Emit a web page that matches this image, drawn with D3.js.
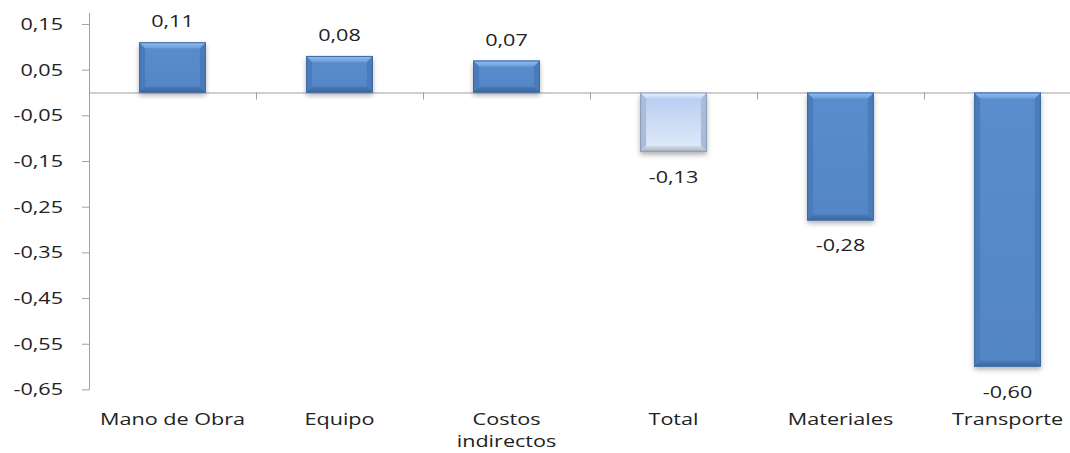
<!DOCTYPE html>
<html>
<head>
<meta charset="utf-8">
<script src="https://cdn.jsdelivr.net/npm/d3@7"></script>
<style>
  body { margin: 0; background: #fff; }
  text { font-family: "Open Sans", "Liberation Sans", sans-serif; fill: #222; }
</style>
</head>
<body>
<svg id="chart"></svg>
<script>
// data
var categories = ["Mano de Obra", "Equipo", "Costos indirectos", "Total", "Materiales", "Transporte"];
var values = [0.11, 0.08, 0.07, -0.13, -0.28, -0.60];
var valueLabels = ["0,11", "0,08", "0,07", "-0,13", "-0,28", "-0,60"];
var tickValues = [0.15, 0.05, -0.05, -0.15, -0.25, -0.35, -0.45, -0.55, -0.65];
var tickLabels = ["0,15", "0,05", "-0,05", "-0,15", "-0,25", "-0,35", "-0,45", "-0,55", "-0,65"];

var svgWidth = 1070;
var svgHeight = 453;
var left = 89;
var stretch = 1.27; // reference text is wide (stretched Calibri)

var svg = d3.select('#chart')
    .attr('width', svgWidth)
    .attr('height', svgHeight);

var x = d3.scaleBand()
    .domain(categories)
    .range([left, left + 6 * 167])
    .paddingInner(0.6)
    .paddingOuter(0.3);

var y = d3.scaleLinear()
    .domain([-0.65, 0.174])
    .range([389.4, 13]);

var defs = svg.append('defs');

function vgrad(id, c0, c1) {
    var g = defs.append('linearGradient').attr('id', id).attr('x1', 0).attr('y1', 0).attr('x2', 0).attr('y2', 1);
    g.append('stop').attr('offset', '0%').attr('stop-color', c0);
    g.append('stop').attr('offset', '100%').attr('stop-color', c1);
}
vgrad('blueMain', '#5a8dcd', '#5386c6');
vgrad('blueTop', '#93bdee', '#6d9fdb');
vgrad('blueBot', '#4b7cba', '#3a6499');
vgrad('lightMain', '#b4ccf0', '#e2ebfa');
vgrad('lightTop', '#eef4fd', '#c2d6f3');
vgrad('lightBot', '#d4dce8', '#a3afc1');

var shadow = defs.append('filter').attr('id', 'shadow').attr('x', '-20%').attr('y', '-20%').attr('width', '140%').attr('height', '140%');
shadow.append('feDropShadow').attr('dx', 0).attr('dy', 3).attr('stdDeviation', 2.5)
    .attr('flood-color', '#000').attr('flood-opacity', 0.3);

// y axis
var yAxis = d3.axisLeft(y)
    .tickValues(tickValues)
    .tickSize(7)
    .tickFormat(function(d, i) { return tickLabels[i]; });

var ya = svg.append('g')
    .attr('transform', 'translate(' + left + ',0)')
    .call(yAxis);
ya.select('.domain').attr('stroke', '#a0a0a0').attr('d', 'M-0.5,' + y(-0.65) + 'H0.5V' + y(0.174));
ya.selectAll('.tick line').attr('stroke', '#a0a0a0');
ya.selectAll('.tick text')
    .attr('x', -26 / stretch)
    .attr('transform', 'scale(' + stretch + ',1)')
    .style('font-size', '17px')
    .style('font-family', '"Open Sans", sans-serif')
    .attr('fill', '#222');

// zero line with category tick marks
var xAxis = d3.axisBottom(x).tickSize(0).tickFormat('');
var xa = svg.append('g')
    .attr('transform', 'translate(0,' + y(0) + ')')
    .call(xAxis);
xa.select('.domain').attr('stroke', '#a0a0a0');

var bounds = d3.range(1, 6).map(function(i) {
    return x(categories[i]) - x.step() * x.paddingInner() / 2;
});
svg.selectAll('.ctick').data(bounds).enter().append('line')
    .attr('class', 'ctick')
    .attr('x1', function(d) { return Math.round(d) + 0.5; })
    .attr('x2', function(d) { return Math.round(d) + 0.5; })
    .attr('y1', y(0))
    .attr('y2', y(0) + 7)
    .attr('stroke', '#a0a0a0');

// bars
var bars = svg.selectAll('.bar').data(values)
    .enter()
    .append('g')
    .attr('class', 'bar');

var bev = 6;
function box(d, i) {
    var x0 = x(categories[i]);
    return { x0: x0, x1: x0 + x.bandwidth(), t: y(Math.max(0, d)), b: y(Math.min(0, d)) };
}

bars.append('rect')
    .attr('x', function(d, i) { return x(categories[i]); })
    .attr('y', function(d) { return y(Math.max(0, d)); })
    .attr('width', x.bandwidth())
    .attr('height', function(d) { return Math.abs(y(d) - y(0)); })
    .attr('fill', function(d, i) { return i === 3 ? 'url(#lightMain)' : 'url(#blueMain)'; })
    .attr('filter', 'url(#shadow)');

// left / right bevel sides
bars.append('path')
    .attr('d', function(d, i) {
        var r = box(d, i);
        return 'M' + r.x0 + ',' + r.t + 'L' + (r.x0 + bev) + ',' + (r.t + bev) + 'V' + (r.b - bev) + 'L' + r.x0 + ',' + r.b + 'Z' +
               'M' + r.x1 + ',' + r.t + 'L' + (r.x1 - bev) + ',' + (r.t + bev) + 'V' + (r.b - bev) + 'L' + r.x1 + ',' + r.b + 'Z';
    })
    .attr('fill', function(d, i) { return i === 3 ? '#a9bddb' : '#4a7bba'; });

// top bevel
bars.append('path')
    .attr('d', function(d, i) {
        var r = box(d, i);
        return 'M' + r.x0 + ',' + r.t + 'H' + r.x1 + 'L' + (r.x1 - bev) + ',' + (r.t + bev) + 'H' + (r.x0 + bev) + 'Z';
    })
    .attr('fill', function(d, i) { return i === 3 ? 'url(#lightTop)' : 'url(#blueTop)'; });

// bottom bevel
bars.append('path')
    .attr('d', function(d, i) {
        var r = box(d, i);
        return 'M' + r.x0 + ',' + r.b + 'H' + r.x1 + 'L' + (r.x1 - bev) + ',' + (r.b - bev) + 'H' + (r.x0 + bev) + 'Z';
    })
    .attr('fill', function(d, i) { return i === 3 ? 'url(#lightBot)' : 'url(#blueBot)'; });

// outline
bars.append('rect')
    .attr('x', function(d, i) { return x(categories[i]) + 0.5; })
    .attr('y', function(d) { return y(Math.max(0, d)) + 0.5; })
    .attr('width', x.bandwidth() - 1)
    .attr('height', function(d) { return Math.abs(y(d) - y(0)) - 1; })
    .attr('fill', 'none')
    .attr('stroke', function(d, i) { return i === 3 ? '#8c9bb0' : '#3f6aa3'; })
    .attr('stroke-width', 1);

// value labels
svg.selectAll('.vlab').data(values)
    .enter()
    .append('text')
    .attr('class', 'vlab')
    .attr('transform', function(d, i) {
        var cx = x(categories[i]) + x.bandwidth() / 2;
        var ty = d >= 0 ? y(d) - 15 : y(d) + 31;
        return 'translate(' + cx + ',' + ty + ') scale(' + stretch + ',1)';
    })
    .attr('text-anchor', 'middle')
    .style('font-size', '17px')
    .text(function(d, i) { return valueLabels[i]; });

// category labels (low position)
var clab = svg.selectAll('.clab').data(categories)
    .enter()
    .append('text')
    .attr('class', 'clab')
    .attr('transform', function(d) {
        return 'translate(' + (x(d) + x.bandwidth() / 2) + ',425) scale(' + stretch + ',1)';
    })
    .attr('text-anchor', 'middle')
    .style('font-size', '17px');

clab.each(function(d) {
    var words = d === "Costos indirectos" ? ["Costos", "indirectos"] : [d];
    var t = d3.select(this);
    words.forEach(function(w, k) {
        t.append('tspan')
            .attr('x', 0)
            .attr('dy', k === 0 ? 0 : 22)
            .text(w);
    });
});
</script>
</body>
</html>
